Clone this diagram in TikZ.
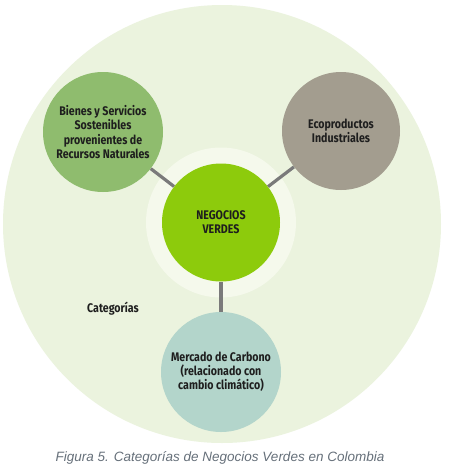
\documentclass[tikz,border=0pt]{standalone}
\usepackage{fontspec}
\setmainfont{Liberation Sans}
\newfontfamily\cond[FakeStretch=0.85, BoldFont={* Bold}]{Fira Sans}
\definecolor{outerc}{HTML}{EBF3DE}
\definecolor{haloc}{HTML}{F5F9EC}
\definecolor{centerc}{HTML}{8DCB0C}
\definecolor{leftc}{HTML}{8FBC6E}
\definecolor{rightc}{HTML}{A39D8F}
\definecolor{bottomc}{HTML}{B3D5CB}
\definecolor{linec}{HTML}{7A7A7A}
\definecolor{textc}{HTML}{1E1E1E}
\definecolor{capc}{HTML}{66707A}
\tikzset{
  cat/.style={circle, inner sep=0pt, text=textc, align=center,
    font=\cond\bfseries\fontsize{12.5}{14.2}\selectfont},
  link/.style={draw=linec, line width=3.2pt},
}
\begin{document}
\begin{tikzpicture}[x=1pt,y=-1pt]
\useasboundingbox (0,0) rectangle (449,475);
\fill[white] (0,0) rectangle (449,475);
\node[circle, fill=outerc, minimum size=438pt, inner sep=0pt] (outer) at (222,224) {};
\node[circle, fill=haloc, minimum size=150pt, inner sep=0pt] (halo) at (221,222.5) {};
\node[cat, fill=centerc, minimum size=118pt] (center) at (221,222.5) {NEGOCIOS\\VERDES};
\node[cat, fill=leftc, minimum size=120pt] (left) at (103,132) {Bienes y Servicios\\Sostenibles\\provenientes de\\Recursos Naturales};
\node[cat, fill=rightc, minimum size=118pt] (right) at (341,131) {Ecoproductos\\Industriales};
\node[cat, fill=bottomc, minimum size=120pt] (bottom) at (221,372) {Mercado de Carbono\\(relacionado con\\cambio climático)};
\draw[link] (left) -- (center);
\draw[link] (right) -- (center);
\draw[link] (center) -- (bottom);
\node[text=textc, font=\cond\bfseries\fontsize{12.5}{14}\selectfont] (catlabel) at (113,309) {Categorías};
\node[text=capc, font=\itshape\fontsize{13.5}{16}\selectfont] (caption) at (220,458) {Figura 5. Categorías de Negocios Verdes en Colombia};
\end{tikzpicture}
\end{document}
